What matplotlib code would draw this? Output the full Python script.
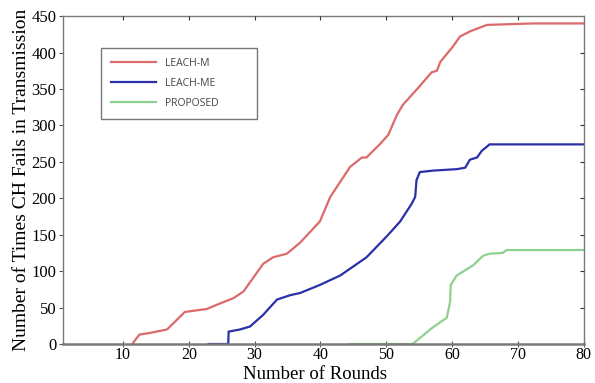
import matplotlib
matplotlib.use("Agg")
import matplotlib.pyplot as plt

# values
leach_m_x = [11.4, 12.5, 14.0, 16.7, 19.4, 22.7, 24.3, 26.8, 28.3, 31.3, 32.8, 34.9, 36.9,
             39.9, 41.5, 44.5, 46.3, 47.0, 49.0, 50.3, 51.6, 52.5, 54.7, 56.9, 57.7, 58.2,
             60.1, 61.2, 62.7, 65.3, 72.3, 80.0]
leach_m_y = [0, 13, 15, 20, 44, 48, 54, 63, 72, 110, 119, 124, 139,
             168, 202, 243, 256, 256, 274, 287, 314, 328, 350, 373, 375, 387,
             408, 422, 429, 438, 440, 440]

leach_me_x = [23.0, 26.0, 26.05, 27.8, 29.3, 31.3, 33.4, 35.4, 36.9, 39.9, 43.0, 47.0, 50.1,
              52.1, 53.9, 54.4, 54.6, 55.1, 57.1, 60.7, 62.0, 62.7, 63.8, 64.5, 65.7, 80.0]
leach_me_y = [0, 0, 17, 20, 24, 40, 61, 67, 70, 81, 94, 119, 148,
              168, 193, 202, 225, 236, 238, 240, 242, 253, 256, 265, 274, 274]

proposed_x = [44.5, 54.0, 57.1, 59.2, 59.7, 59.8, 60.7, 63.2, 64.7, 65.7, 67.7, 68.3, 80.0]
proposed_y = [0, 0, 23, 36, 58, 81, 94, 108, 121, 124, 125, 129, 129]

x_ticks = [10, 20, 30, 40, 50, 60, 70, 80]
y_ticks = [0, 50, 100, 150, 200, 250, 300, 350, 400, 450]

serif = 'Liberation Serif'

fig = plt.figure(figsize=(5.95, 3.83), dpi=100)
ax = fig.add_axes([0.106, 0.1018, 0.875, 0.856])

ax.plot(leach_m_x, leach_m_y, color='#dc6a6a', lw=1.6, label='LEACH-M')
ax.plot(leach_me_x, leach_me_y, color='#2b2fa8', lw=1.6, label='LEACH-ME')
ax.plot(proposed_x, proposed_y, color='#8ed08e', lw=1.6, label='PROPOSED')

ax.set_xlim(0.9, 80)
ax.set_ylim(0, 450)
ax.set_xticks(x_ticks)
ax.set_yticks(y_ticks)

for s in ax.spines.values():
    s.set_color('#7a7a7a')
    s.set_linewidth(1.0)
ax.spines['bottom'].set_linewidth(1.8)

ax.tick_params(axis='y', direction='out', length=3, color='#555555', labelsize=12, pad=2)
ax.tick_params(axis='x', direction='inout', length=5, color='#555555', labelsize=11.5, pad=0)
for lab in ax.get_xticklabels() + ax.get_yticklabels():
    lab.set_fontfamily(serif)

# inward marks on the top and right frame
top = ax.twiny()
top.set_xlim(ax.get_xlim())
top.set_xticks(x_ticks[:-1])
top.tick_params(axis='x', direction='in', length=3, color='#333333', labeltop=False)
right = ax.twinx()
right.set_ylim(ax.get_ylim())
right.set_yticks(y_ticks[1:-1])
right.tick_params(axis='y', direction='in', length=3, color='#333333', labelright=False)
for tw in (top, right):
    for s in tw.spines.values():
        s.set_visible(False)

ax.set_ylabel('Number of Times CH Fails in Transmission', fontfamily=serif,
              fontsize=14, labelpad=1)
fig.text(0.53, 0.0, 'Number of Rounds', fontfamily=serif, fontsize=13.5,
         ha='center', va='bottom')

leg = ax.legend(loc='upper left', bbox_to_anchor=(0.063, 0.70, 0.32, 0.22), mode='expand',
                fancybox=False, edgecolor='#555555', handlelength=4.3,
                labelspacing=0.85, borderpad=1.0, prop={'family': 'Open Sans', 'size': 7.5})
leg.get_frame().set_linewidth(1.0)
for t in leg.get_texts():
    t.set_color('#444444')

fig.savefig('out.png', dpi=100)
